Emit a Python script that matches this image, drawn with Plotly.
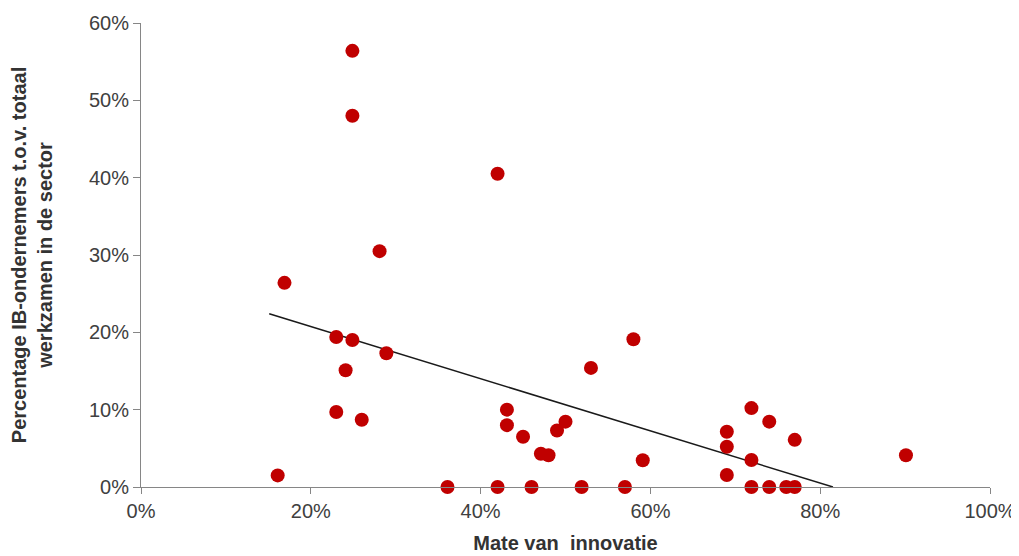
import plotly.graph_objects as go

# Mate van innovatie (x) vs. percentage IB-ondernemers (y), as fractions
innovatie = [
    0.249, 0.249, 0.420, 0.281, 0.169, 0.230, 0.249, 0.580, 0.289, 0.241,
    0.530, 0.230, 0.260, 0.161, 0.431, 0.431, 0.450, 0.471, 0.480, 0.490,
    0.500, 0.591, 0.361, 0.420, 0.460, 0.519, 0.570, 0.690, 0.690, 0.690,
    0.719, 0.719, 0.719, 0.740, 0.740, 0.760, 0.770, 0.770, 0.901,
]
ib_ondernemers = [
    0.564, 0.480, 0.405, 0.305, 0.264, 0.194, 0.190, 0.191, 0.173, 0.151,
    0.154, 0.097, 0.087, 0.015, 0.100, 0.080, 0.065, 0.043, 0.041, 0.073,
    0.0845, 0.0345, 0.0, 0.0, 0.0, 0.0, 0.0, 0.0715, 0.052, 0.0155,
    0.102, 0.035, 0.0, 0.0845, 0.0, 0.0, 0.061, 0.0, 0.041,
]

# linear trendline endpoints
trend_x = [0.151, 0.815]
trend_y = [0.224, 0.0]

x_ticks = [0, 0.2, 0.4, 0.6, 0.8, 1.0]
y_ticks = [0, 0.1, 0.2, 0.3, 0.4, 0.5, 0.6]

font_family = "Liberation Sans, Arial, sans-serif"
axis_grey = "#868686"

fig = go.Figure()

fig.add_trace(
    go.Scatter(
        x=trend_x,
        y=trend_y,
        mode="lines",
        line=dict(color="#1a1a1a", width=1.5),
        hoverinfo="skip",
    )
)

fig.add_trace(
    go.Scatter(
        x=innovatie,
        y=ib_ondernemers,
        mode="markers",
        marker=dict(color="#C00000", size=14, line=dict(width=0)),
        cliponaxis=False,
    )
)

fig.update_xaxes(
    range=[0, 1.0],
    tickvals=x_ticks,
    tickformat=".0%",
    showgrid=False,
    zeroline=False,
    showline=True,
    linecolor=axis_grey,
    linewidth=1,
    ticks="outside",
    ticklen=6,
    tickcolor=axis_grey,
    tickfont=dict(family=font_family, size=20, color="#404040"),
    title=dict(
        text="<b>Mate van  innovatie</b>",
        font=dict(family=font_family, size=20, color="#333333"),
        standoff=14,
    ),
)
fig.update_yaxes(
    range=[0, 0.6],
    tickvals=y_ticks,
    tickformat=".0%",
    showgrid=False,
    zeroline=False,
    showline=True,
    linecolor=axis_grey,
    linewidth=1,
    ticks="outside",
    ticklen=7,
    tickcolor=axis_grey,
    tickfont=dict(family=font_family, size=20, color="#404040"),
    title=dict(
        text="<b>Percentage IB-ondernemers t.o.v. totaal<br>werkzamen in de sector</b>",
        font=dict(family=font_family, size=20, color="#333333"),
        standoff=30,
    ),
)

# the page body adds an 8px offset, so the figure is sized to fit inside it
fig.update_layout(
    width=1011,
    height=548,
    margin=dict(l=133, r=29, t=15, b=69, autoexpand=False),
    plot_bgcolor="white",
    paper_bgcolor="white",
    showlegend=False,
)

fig.write_html("out.html")
